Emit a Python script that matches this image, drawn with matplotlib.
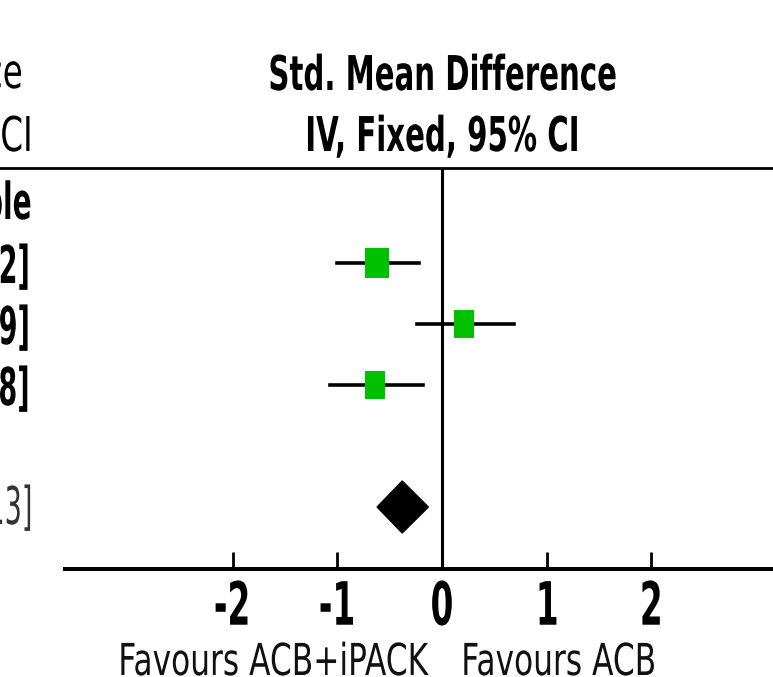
import numpy as np
import matplotlib
matplotlib.use("Agg")
import matplotlib.pyplot as plt
from matplotlib import patheffects
from matplotlib.patches import Rectangle, Polygon
from matplotlib.transforms import Affine2D

# forest plot values (Std. Mean Difference, IV, Fixed, 95% CI)
smd = [-0.62, 0.21, -0.64]
ci_lo = [-1.00, -0.24, -1.07]
ci_hi = [-0.22, 0.69, -0.18]
weights = [45.0, 27.0, 28.0]
total_smd = -0.38
total_lo = -0.62
total_hi = -0.13
ticks = [-2, -1, 0, 1, 2]
left_label = "Favours ACB+iPACK"
right_label = "Favours ACB"
group_label = "Sample"

plt.rcParams["axes.unicode_minus"] = False
plt.rcParams["font.family"] = ["DejaVu Sans"]


class Squeeze(patheffects.AbstractPathEffect):
    """draws text narrower than the font, like the squashed RevMan export"""
    def __init__(self, sx, anchor="center"):
        super().__init__()
        self.sx = sx
        self.anchor = anchor

    def draw_path(self, renderer, gc, tpath, affine, rgbFace=None):
        ext = tpath.get_extents()
        if self.anchor == "right":
            x0 = ext.x1
        elif self.anchor == "left":
            x0 = ext.x0
        else:
            x0 = (ext.x0 + ext.x1) / 2
        squash = Affine2D().translate(-x0, 0).scale(self.sx, 1).translate(x0, 0)
        renderer.draw_path(gc, tpath, squash + affine, rgbFace)


W, H = 773, 677
X0, UNIT = 442, 104.7   # pixel of zero, pixels per unit


def px(p):
    return (p - X0) / UNIT


fig = plt.figure(figsize=(W / 100, H / 100), dpi=100)
ax = fig.add_axes([0, 0, 1, 1])
ax.set_xlim(px(0), px(W))
ax.set_ylim(H, 0)

row_y = [263 + 61 * i for i in range(3)]
total_y = 507
axis_y = 569
top_y = 168

# header
ax.axhline(top_y, color="k", lw=2.0)
ax.text(0, 90, "Std. Mean Difference", ha="center", va="baseline", fontsize=34.5,
        fontweight="bold", path_effects=[Squeeze(0.61)])
ax.text(0, 151, "IV, Fixed, 95% CI", ha="center", va="baseline", fontsize=34.5,
        fontweight="bold", path_effects=[Squeeze(0.61)])

# cut-off left column
ax.text(px(23), 88, "Std. Mean Difference", ha="right", va="baseline", fontsize=34.5,
        path_effects=[Squeeze(0.68, "right")])
ax.text(px(34), 151, "IV, Fixed, 95% CI", ha="right", va="baseline", fontsize=34.5,
        path_effects=[Squeeze(0.68, "right")])
ax.text(px(33), 219, group_label, ha="right", va="baseline", fontsize=36.7,
        fontweight="bold", path_effects=[Squeeze(0.55, "right")])
for m, lo, hi, y in zip(smd, ci_lo, ci_hi, row_y):
    ax.text(px(33), y + 20, f"{m:.2f} [{lo:.2f}, {hi:.2f}]", ha="right", va="baseline",
            fontsize=37.5, fontweight="bold", path_effects=[Squeeze(0.52, "right")])
ax.text(px(35), total_y + 17, f"{total_smd:.2f} [{total_lo:.2f}, {total_hi:.2f}]",
        ha="right", va="baseline", fontsize=37.5, color="#333333",
        path_effects=[Squeeze(0.52, "right")])

# line of no effect
ax.plot([0, 0], [top_y, axis_y], color="k", lw=2.2, solid_capstyle="butt")

# studies
ax.hlines(row_y, ci_lo, ci_hi, color="k", lw=2.6, capstyle="projecting")
for m, w, y in zip(smd, weights, row_y):
    wpx = 3.7 * np.sqrt(w)
    hpx = 0.6 * wpx + 16
    ax.add_patch(Rectangle((m - wpx / 2 / UNIT, y - hpx / 2), wpx / UNIT, hpx,
                           facecolor="#00c000", edgecolor="none", zorder=3))

# pooled estimate
ax.add_patch(Polygon([(total_lo, total_y), (total_smd, total_y - 26),
                      (total_hi, total_y), (total_smd, total_y + 26)],
                     closed=True, facecolor="k", edgecolor="k", zorder=3))

# x axis
for s in ["top", "left", "right"]:
    ax.spines[s].set_visible(False)
ax.spines["bottom"].set_position(("data", axis_y))
ax.spines["bottom"].set_bounds(px(65), px(W))
ax.spines["bottom"].set_linewidth(2.9)
ax.set_yticks([])
ax.set_xticks(ticks)
ax.tick_params(axis="x", direction="in", length=12.2, width=2.0, pad=7,
               labelsize=43)
for lab in ax.get_xticklabels():
    lab.set_fontweight("bold")
    lab.set_path_effects([Squeeze(0.55)])

ax.text(px(428), 675, left_label, ha="right", va="baseline", fontsize=31.7,
        color="#111111", path_effects=[Squeeze(0.71, "right")])
ax.text(px(460), 675, right_label, ha="left", va="baseline", fontsize=31.7,
        color="#111111", path_effects=[Squeeze(0.71, "left")])

fig.savefig("out.png", dpi=100)
